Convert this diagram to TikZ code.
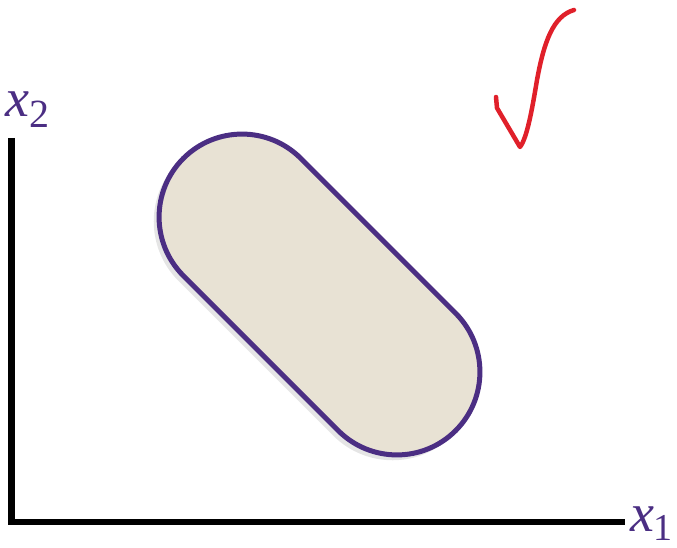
\documentclass[tikz,border=0pt]{standalone}
\usepackage{fontspec}
\setmainfont{Liberation Serif}
\definecolor{uwpurple}{HTML}{4B2E83}
\definecolor{capfill}{HTML}{E8E2D4}
\definecolor{checkred}{HTML}{E0202A}
\tikzset{
  axisline/.style={line width=6.5pt, black, line cap=butt},
  capsule/.style={line width=5pt, draw=uwpurple, fill=capfill},
  axislabel/.style={text=uwpurple, font=\fontsize{54}{54}\selectfont\itshape, inner sep=0pt, anchor=base west},
  checkline/.style={line width=4.5pt, checkred, line cap=round, line join=round}
}
\begin{document}
\begin{tikzpicture}[x=1pt,y=1pt]
\useasboundingbox (0,0) rectangle (677,-548);
% axes
\coordinate (origin) at (11.7,-522);
\coordinate (ytop) at (11.7,-138);
\coordinate (xend) at (625,-522);
\draw[axisline] (ytop) -- (11.7,-525.2) (8.5,-522) -- (xend);
% labels
\node[axislabel] (x2) at (5,-117) {x\raisebox{-11pt}{\fontsize{40}{40}\selectfont\upshape 2}};
\node[axislabel] (x1) at (630,-531) {x\kern-1pt\raisebox{-9pt}{\fontsize{38}{38}\selectfont\upshape 1}};
% capsule shadow
\fill[gray!40, opacity=0.5, rotate around={-45:(318,-296)}, rounded corners=84pt]
  (318-193.5,-296-84-4) rectangle (318+193.5,-296+84-4);
% capsule
\draw[capsule, rotate around={-45:(319.5,-294.5)}, rounded corners=83pt]
  (319.5-192.5,-294.5-83) rectangle (319.5+192.5,-294.5+83);
% check mark
\coordinate (c0) at (496,-97);
\coordinate (c1) at (520,-147);
\coordinate (c2) at (574,-10);
\draw[checkline] (c0) -- (497,-108) -- (c1) .. controls (527,-138) and (532,-110) .. (537,-80)
  .. controls (544,-42) and (553,-16) .. (c2);
\end{tikzpicture}
\end{document}
